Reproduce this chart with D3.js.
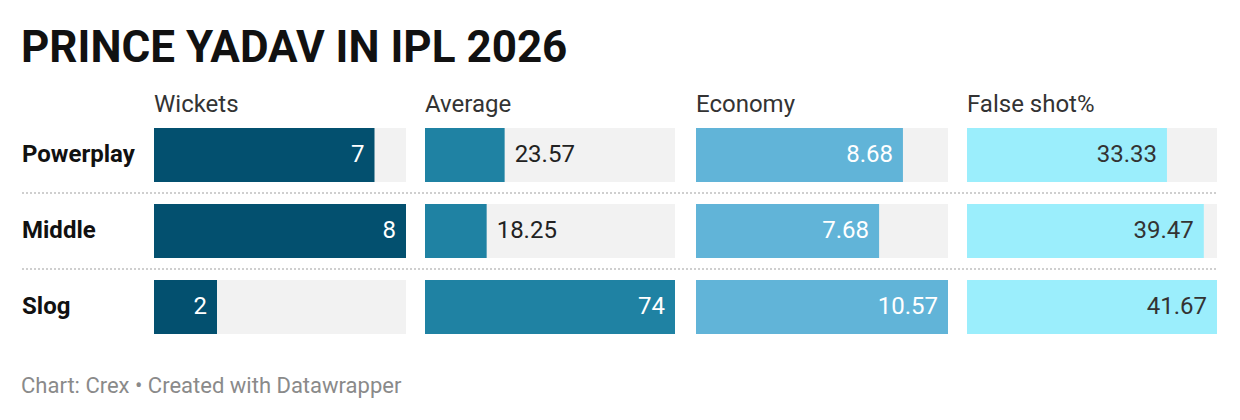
<!DOCTYPE html>
<html>
<head>
<meta charset="utf-8">
<script src="https://cdn.jsdelivr.net/npm/d3@7"></script>
<style>
  html, body { margin: 0; padding: 0; background: #fff; }
  svg { display: block; font-family: Roboto, "Noto Sans", sans-serif; }
</style>
</head>
<body>
<svg id="chart" width="1240" height="420"></svg>
<script>
const categories = ["Powerplay", "Middle", "Slog"];
const metrics = ["Wickets", "Average", "Economy", "False shot%"];
const wickets = [7, 8, 2];
const average = [23.57, 18.25, 74];
const economy = [8.68, 7.68, 10.57];
const falseShot = [33.33, 39.47, 41.67];
const valueLabels = [
  ["7", "8", "2"],
  ["23.57", "18.25", "74"],
  ["8.68", "7.68", "10.57"],
  ["33.33", "39.47", "41.67"]
];
const seriesValues = [wickets, average, economy, falseShot];
const colors = ["#03506f", "#1f82a3", "#61b4d8", "#9beefc"];
const textInside = ["#ffffff", "#ffffff", "#ffffff", "#333333"];

const svg = d3.select("#chart");

svg.append("text")
  .attr("x", 21).attr("y", 62)
  .attr("font-size", 44).attr("font-weight", 700)
  .attr("fill", "#111")
  .text("PRINCE YADAV IN IPL 2026");

const colX = d3.scaleBand().domain(metrics).range([154, 1238]).paddingInner(0).paddingOuter(0);
const rowY = d3.scaleBand().domain(categories).range([128, 334]).paddingInner(22/76).paddingOuter(0);

// headers
svg.selectAll("text.hdr").data(metrics).join("text")
  .attr("class", "hdr")
  .attr("x", d => colX(d))
  .attr("y", 112)
  .attr("font-size", 24)
  .attr("fill", "#333")
  .text(d => d);

// separators
categories.slice(0, -1).forEach((c, i) => {
  const y = rowY(c) + rowY.bandwidth() + 11;
  svg.append("line")
    .attr("x1", 22).attr("x2", 1218)
    .attr("y1", y).attr("y2", y)
    .attr("stroke", "#cfcfcf").attr("stroke-width", 2)
    .attr("stroke-dasharray", "2,2");
});

// row labels
svg.selectAll("text.cat").data(categories).join("text")
  .attr("class", "cat")
  .attr("x", 22)
  .attr("y", d => rowY(d) + rowY.bandwidth() / 2 + 7)
  .attr("font-size", 24).attr("font-weight", 700)
  .attr("fill", "#111")
  .text(d => d);

metrics.forEach((m, mi) => {
  const x0 = colX(m);
  const w = mi % 2 === 0 ? 252 : 250;
  const vals = seriesValues[mi];
  const xs = d3.scaleLinear().domain([0, d3.max(vals)]).range([0, w]);
  const g = svg.append("g").attr("transform", `translate(${x0},0)`);
  categories.forEach((c, ci) => {
    const y = rowY(c), h = rowY.bandwidth();
    g.append("rect").attr("x", 0).attr("y", y).attr("width", w).attr("height", h).attr("fill", "#f2f2f2");
    const bw = xs(vals[ci]);
    g.append("rect").attr("x", 0).attr("y", y).attr("width", bw).attr("height", h).attr("fill", colors[mi]);
    const t = g.append("text")
      .attr("y", y + h / 2 + 7)
      .attr("font-size", 24)
      .text(valueLabels[mi][ci]);
    const tw = t.node().getComputedTextLength();
    if (bw >= tw + 30) {
      t.attr("x", bw - 10).attr("text-anchor", "end").attr("fill", textInside[mi]);
    } else {
      t.attr("x", bw + 10).attr("text-anchor", "start").attr("fill", "#222");
    }
  });
});

svg.append("text")
  .attr("x", 21).attr("y", 393)
  .attr("font-size", 22)
  .attr("fill", "#8a8a8a")
  .text("Chart: Crex \u2022 Created with Datawrapper");
</script>
</body>
</html>
